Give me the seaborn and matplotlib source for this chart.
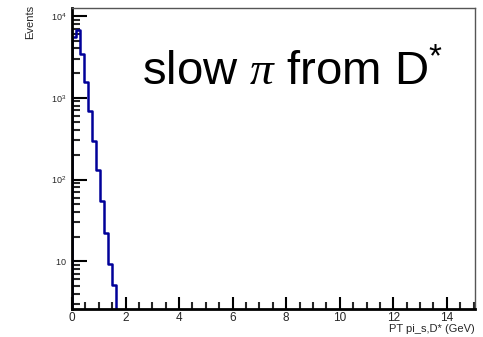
import numpy as np
import pandas as pd
import seaborn as sns
import matplotlib
matplotlib.use("Agg")
import matplotlib.pyplot as plt
from matplotlib.ticker import FixedLocator, MultipleLocator, LogLocator, NullFormatter

# ---- data ----
bin_edges = [0.0, 0.15, 0.30, 0.45, 0.60, 0.75, 0.90, 1.05, 1.20, 1.35, 1.50, 1.65]
counts = [5540, 6740, 3400, 1550, 695, 299, 131, 54, 22, 9.3, 5.2]
x_ticks = [0, 2, 4, 6, 8, 10, 12, 14]
y_ticks = [10, 100, 1000, 10000]
y_tick_labels = [r"$\mathregular{10}$", r"$\mathregular{10^{2}}$", r"$\mathregular{10^{3}}$", r"$\mathregular{10^{4}}$"]
title_text = r"slow $\pi$ from $\mathregular{D^{*}}$"
x_label = "PT pi_s,D* (GeV)"
y_label = "Events"

centers = [(a + b) / 2 for a, b in zip(bin_edges[:-1], bin_edges[1:])]
df = pd.DataFrame({"pt": centers, "n": counts})

sns.set_theme(style="ticks")
plt.rcParams["font.family"] = ["Liberation Sans", "DejaVu Sans"]
plt.rcParams["mathtext.fontset"] = "custom"
plt.rcParams["mathtext.rm"] = "Liberation Sans"
plt.rcParams["mathtext.it"] = "Liberation Serif:italic"

fig = plt.figure(figsize=(4.83, 3.37), dpi=100)
fig.patch.set_facecolor("white")
ax = fig.add_axes([72 / 483, 28 / 337, 403 / 483, 300.7 / 337])
ax.set_facecolor("white")
ax.set_yscale("log")

sns.histplot(data=df, x="pt", weights="n", bins=bin_edges, element="step",
             fill=True, color="#000099", facecolor=(0, 0, 0, 0),
             edgecolor="#000099", linewidth=1.8, ax=ax)

ax.set_xlim(0, 15.05)
ax.set_ylim(2.61, 12400)

ax.xaxis.set_major_locator(FixedLocator(x_ticks))
ax.set_xticklabels([str(t) for t in x_ticks])
ax.xaxis.set_minor_locator(MultipleLocator(0.5))
ax.yaxis.set_major_locator(FixedLocator(y_ticks))
ax.set_yticklabels(y_tick_labels)
ax.yaxis.set_minor_locator(LogLocator(base=10, subs=np.arange(2, 10)))
ax.yaxis.set_minor_formatter(NullFormatter())

ax.tick_params(axis="x", which="major", direction="in", length=9, width=1.5,
               labelsize=8.5, pad=2.5, color="black", top=False)
ax.tick_params(axis="x", which="minor", direction="in", length=5, width=1.5,
               top=False)
ax.tick_params(axis="y", which="major", direction="in", length=11, width=1.5,
               labelsize=6.5, pad=4, color="black", right=False)
ax.tick_params(axis="y", which="minor", direction="in", length=6, width=1.5,
               right=False)

for side in ["left", "bottom"]:
    ax.spines[side].set_linewidth(2)
    ax.spines[side].set_color("black")
for side in ["top", "right"]:
    ax.spines[side].set_visible(True)
    ax.spines[side].set_linewidth(1)
    ax.spines[side].set_color("#555555")

ax.set_xlabel(x_label, loc="right", fontsize=8, labelpad=0.0)
ax.set_ylabel(y_label, fontsize=8, ha="right", va="center")
ax.yaxis.set_label_coords(-0.104, 1.013)

ax.text(0.173, 0.745, title_text, transform=ax.transAxes, ha="left",
        va="baseline", fontsize=34, color="black")

fig.savefig("out.png", dpi=100, facecolor="white")
